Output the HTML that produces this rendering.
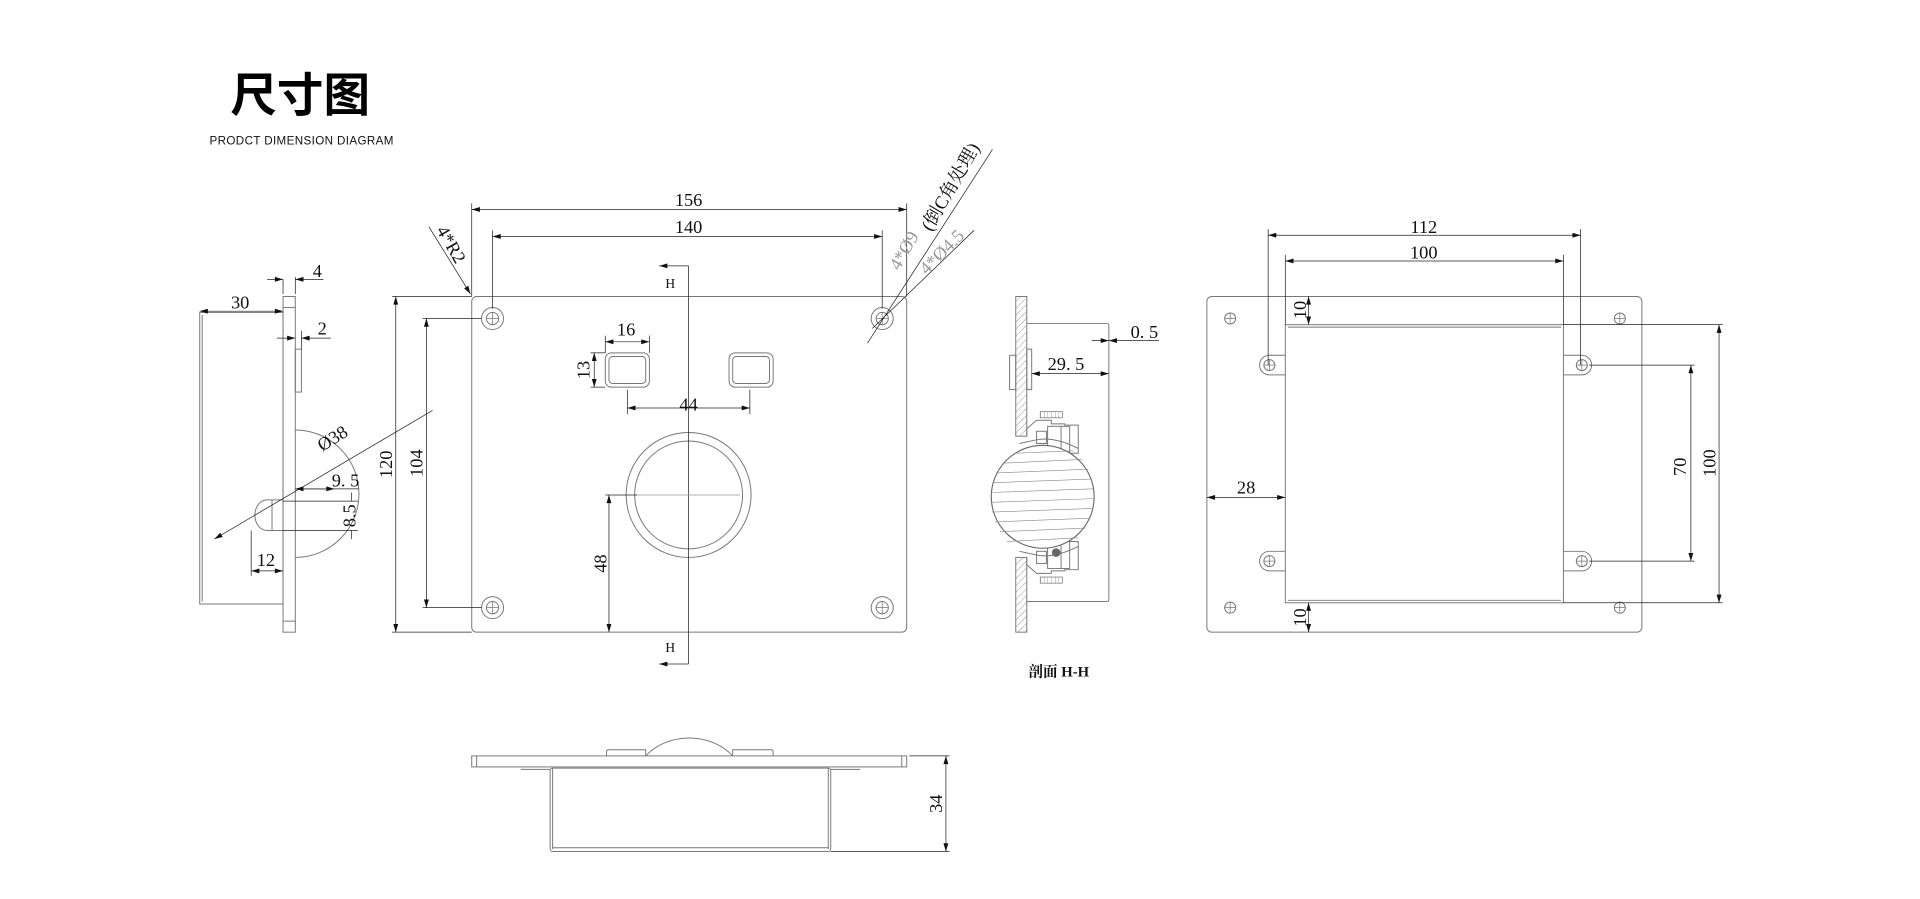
<!DOCTYPE html>
<html><head><meta charset="utf-8"><style>
html,body{margin:0;padding:0;background:#fff;width:1920px;height:899px;overflow:hidden}
svg{display:block}
.t{font-family:"Liberation Serif","Noto Serif CJK SC",serif;font-size:15px;fill:#111}
.n{font-family:"Liberation Sans","Noto Sans CJK SC",sans-serif}
</style></head><body>
<svg width="1920" height="899" viewBox="0 0 1567 733.8" preserveAspectRatio="none" xmlns="http://www.w3.org/2000/svg">
<defs>
<marker id="a" viewBox="0 0 10 6" refX="10" refY="3" markerWidth="7" markerHeight="4" orient="auto-start-reverse" markerUnits="userSpaceOnUse"><path d="M0,0 L10,3 L0,6z" fill="#111"/></marker>
<pattern id="h" width="4" height="4" patternUnits="userSpaceOnUse" patternTransform="rotate(45)"><line x1="0" y1="0" x2="0" y2="4" stroke="#777" stroke-width="0.6"/></pattern>
<pattern id="hv" width="3" height="6" patternUnits="userSpaceOnUse"><line x1="0" y1="0" x2="0" y2="6" stroke="#777" stroke-width="0.6"/></pattern>
<g id="hole"><circle r="9" fill="none" stroke="#777" stroke-width="0.8"/><circle r="5" fill="none" stroke="#777" stroke-width="0.8"/><path d="M-5,0H5M0,-5V5" stroke="#777" stroke-width="0.6"/></g>
<g id="sh"><circle r="4.5" fill="none" stroke="#777" stroke-width="0.8"/><path d="M-4.5,0H4.5M0,-4.5V4.5" stroke="#777" stroke-width="0.6"/></g>
</defs>

<!-- title -->
<text x="188" y="91" class="n" style="font-size:38px;font-weight:bold;fill:#000" font-family="Noto Sans CJK SC, sans-serif">尺寸图</text>
<text x="171" y="118" class="n" style="font-size:9.5px;fill:#111;letter-spacing:0.3px">PRODCT DIMENSION DIAGRAM</text>

<g fill="none" stroke="#777" stroke-width="0.8">
<!-- LEFT SIDE VIEW -->
<rect x="163" y="255" width="68" height="238"/>
<line x1="165" y1="257" x2="165" y2="491"/>
<rect x="231" y="242" width="10" height="274"/>
<line x1="231" y1="251" x2="241" y2="251"/><line x1="231" y1="507" x2="241" y2="507"/>
<rect x="241" y="285" width="5" height="35"/>
<path d="M241,351 A52,52 0 0 1 241,455"/>
<path d="M231,408 H218 A10,12.5 0 0 0 218,433 H231"/>
<line x1="222" y1="408" x2="222" y2="433"/>
</g>
<g stroke="#222" stroke-width="0.6" fill="none">
<line x1="163" y1="254" x2="231" y2="254" marker-start="url(#a)" marker-end="url(#a)"/>
<line x1="231" y1="228" x2="231" y2="240"/><line x1="241" y1="226" x2="241" y2="240"/>
<line x1="218" y1="228" x2="231" y2="228" marker-end="url(#a)"/><line x1="264" y1="228" x2="241" y2="228" marker-end="url(#a)"/>
<line x1="226" y1="276" x2="241" y2="276" marker-end="url(#a)"/><line x1="270" y1="276" x2="246" y2="276" marker-end="url(#a)"/>
<line x1="246" y1="270" x2="246" y2="285"/>
<line x1="175" y1="440" x2="353" y2="335" marker-start="url(#a)"/>
<line x1="241" y1="399" x2="293" y2="399"/>
<line x1="241" y1="399" x2="273" y2="399" marker-start="url(#a)" marker-end="url(#a)"/>
<line x1="231" y1="409" x2="292" y2="409"/><line x1="231" y1="433" x2="292" y2="433"/>
<line x1="287" y1="402" x2="287" y2="409"/><line x1="287" y1="440" x2="287" y2="433"/>
<line x1="205" y1="433" x2="205" y2="470"/>
<line x1="205" y1="466" x2="231" y2="466" marker-start="url(#a)" marker-end="url(#a)"/>
</g>
<text x="196" y="252" class="t" text-anchor="middle">30</text>
<text x="259" y="226" class="t" text-anchor="middle">4</text>
<text x="263" y="273" class="t" text-anchor="middle">2</text>
<text x="274" y="362" class="t" text-anchor="middle" transform="rotate(-32 274 362)">Ø38</text>
<text x="282" y="397" class="t" text-anchor="middle">9. 5</text>
<text x="290" y="421" class="t" text-anchor="middle" transform="rotate(-90 290 421)">8.5</text>
<text x="217" y="462" class="t" text-anchor="middle">12</text>

<!-- FRONT VIEW -->
<g fill="none" stroke="#777" stroke-width="0.8">
<rect x="385" y="242" width="355" height="274" rx="4"/>
<rect x="494" y="288" width="36" height="28" rx="5"/><rect x="497" y="291" width="30" height="22" rx="3"/>
<rect x="595" y="288" width="36" height="28" rx="5"/><rect x="598" y="291" width="30" height="22" rx="3"/>
<circle cx="562" cy="404" r="51"/><circle cx="562" cy="404" r="44"/>
</g>
<use href="#hole" x="402" y="260"/><use href="#hole" x="720" y="260"/>
<use href="#hole" x="402" y="496"/><use href="#hole" x="720" y="496"/>
<g stroke="#222" stroke-width="0.6" fill="none">
<line x1="562" y1="217" x2="562" y2="542"/>
<line x1="562" y1="217" x2="538" y2="217" marker-end="url(#a)"/>
<line x1="562" y1="542" x2="538" y2="542" marker-end="url(#a)"/>
<line x1="520" y1="404" x2="604" y2="404" stroke="#999"/>
<line x1="385" y1="166" x2="385" y2="242"/><line x1="740" y1="166" x2="740" y2="242"/>
<line x1="385" y1="171" x2="740" y2="171" marker-start="url(#a)" marker-end="url(#a)"/>
<line x1="402" y1="188" x2="402" y2="252"/><line x1="720" y1="188" x2="720" y2="252"/>
<line x1="402" y1="193" x2="720" y2="193" marker-start="url(#a)" marker-end="url(#a)"/>
<line x1="350" y1="185" x2="384" y2="240" marker-end="url(#a)"/>
<line x1="810" y1="122" x2="708" y2="280"/>
<line x1="795" y1="188" x2="712" y2="268"/>
<line x1="320" y1="242" x2="385" y2="242"/><line x1="320" y1="516" x2="385" y2="516"/>
<line x1="323" y1="242" x2="323" y2="516" marker-start="url(#a)" marker-end="url(#a)"/>
<line x1="345" y1="260" x2="393" y2="260"/><line x1="345" y1="496" x2="393" y2="496"/>
<line x1="348" y1="260" x2="348" y2="496" marker-start="url(#a)" marker-end="url(#a)"/>
<line x1="494" y1="274" x2="494" y2="288"/><line x1="530" y1="274" x2="530" y2="288"/>
<line x1="494" y1="279" x2="530" y2="279" marker-start="url(#a)" marker-end="url(#a)"/>
<line x1="482" y1="288" x2="494" y2="288"/><line x1="482" y1="316" x2="494" y2="316"/>
<line x1="485" y1="288" x2="485" y2="316" marker-start="url(#a)" marker-end="url(#a)"/>
<line x1="512" y1="318" x2="512" y2="338"/><line x1="612" y1="318" x2="612" y2="338"/>
<line x1="512" y1="333" x2="612" y2="333" marker-start="url(#a)" marker-end="url(#a)"/>
<line x1="494" y1="404" x2="520" y2="404"/>
<line x1="497" y1="404" x2="497" y2="516" marker-start="url(#a)" marker-end="url(#a)"/>
</g>
<text x="547" y="235" class="t" style="font-size:11px" text-anchor="middle">H</text>
<text x="547" y="532" class="t" style="font-size:11px" text-anchor="middle">H</text>
<text x="562" y="168" class="t" text-anchor="middle">156</text>
<text x="562" y="190" class="t" text-anchor="middle">140</text>
<text x="364" y="202" class="t" text-anchor="middle" transform="rotate(60 364 202)">4*R2</text>
<text x="780" y="155" class="t" text-anchor="middle" transform="rotate(-60 780 155)">(倒C角处理)</text>
<text x="742" y="207" class="t" text-anchor="middle" style="fill:#999" transform="rotate(-60 742 207)">4*Ø9</text>
<text x="772" y="209" class="t" text-anchor="middle" style="fill:#999" transform="rotate(-45 772 209)">4*Ø4.5</text>
<text x="320" y="379" class="t" text-anchor="middle" transform="rotate(-90 320 379)">120</text>
<text x="345" y="378" class="t" text-anchor="middle" transform="rotate(-90 345 378)">104</text>
<text x="511" y="274" class="t" text-anchor="middle">16</text>
<text x="481" y="302" class="t" text-anchor="middle" transform="rotate(-90 481 302)">13</text>
<text x="562" y="335" class="t" text-anchor="middle">44</text>
<text x="495" y="460" class="t" text-anchor="middle" transform="rotate(-90 495 460)">48</text>

<!-- SECTION VIEW -->
<rect x="829" y="242" width="9" height="114" fill="url(#h)" stroke="#777" stroke-width="0.8"/>
<rect x="829" y="455" width="9" height="61" fill="url(#h)" stroke="#777" stroke-width="0.8"/>
<g fill="none" stroke="#777" stroke-width="0.8">
<path d="M838,264 H903 Q905,264 905,266 V489 Q905,491 903,491 H838"/>
<rect x="824" y="290" width="5" height="28"/>
<rect x="838" y="285" width="4" height="33"/>
<!-- upper housing -->
<path d="M838,356 V350 L846,343 H858 V346 H869 V347 H880 V370 H873"/>
<rect x="846" y="352" width="8" height="10"/>
<rect x="855" y="348" width="18" height="22"/>
<line x1="866" y1="348" x2="866" y2="370"/>
<path d="M832,362 L846,359 Q860,356 880,366"/>
<!-- lower housing -->
<path d="M838,455 V461 L846,468 H858 V466 H869 V465 H880 V442 H873"/>
<rect x="846" y="450" width="8" height="10"/>
<rect x="855" y="442" width="18" height="22"/>
<line x1="866" y1="442" x2="866" y2="464"/>
<path d="M832,450 L846,453 Q860,456 880,446"/>
</g>
<rect x="849" y="336" width="18" height="5" fill="url(#hv)" stroke="#777" stroke-width="0.6"/>
<rect x="849" y="471" width="18" height="5" fill="url(#hv)" stroke="#777" stroke-width="0.6"/>
<circle cx="851" cy="405.5" r="42" fill="#fff" stroke="#666" stroke-width="0.9"/>
<g stroke="#888" stroke-width="0.5">
<line x1="820" y1="378" x2="883" y2="375"/><line x1="814" y1="386" x2="888" y2="383"/>
<line x1="811" y1="394" x2="891" y2="391"/><line x1="809" y1="402" x2="893" y2="399"/>
<line x1="809" y1="410" x2="893" y2="407"/><line x1="810" y1="418" x2="892" y2="415"/>
<line x1="812" y1="426" x2="890" y2="423"/><line x1="816" y1="434" x2="886" y2="431"/>
<line x1="822" y1="442" x2="880" y2="439"/><line x1="828" y1="370" x2="876" y2="368"/>
</g>
<circle cx="862" cy="451" r="3.5" fill="#666"/>
<g stroke="#222" stroke-width="0.6" fill="none">
<line x1="891" y1="278" x2="905" y2="278" marker-end="url(#a)"/><line x1="946" y1="278" x2="905" y2="278" marker-end="url(#a)"/>
<line x1="842" y1="305" x2="905" y2="305" marker-start="url(#a)" marker-end="url(#a)"/>
</g>
<text x="934" y="276" class="t" text-anchor="middle">0. 5</text>
<text x="870" y="302" class="t" text-anchor="middle">29. 5</text>
<text x="864" y="552" class="t" style="font-size:12px;font-weight:bold" text-anchor="middle">剖面 H-H</text>

<!-- RIGHT VIEW -->
<g fill="none" stroke="#777" stroke-width="0.8">
<rect x="985" y="242" width="355" height="274" rx="4"/>
<rect x="1049" y="265" width="227" height="227"/>
<line x1="1051" y1="267" x2="1274" y2="267"/><line x1="1051" y1="490" x2="1274" y2="490"/>
<path d="M1049,290 H1036 A8,8 0 0 0 1036,306 H1049"/>
<path d="M1049,450 H1036 A8,8 0 0 0 1036,466 H1049"/>
<path d="M1276,290 H1291 A8,8 0 0 1 1291,306 H1276"/>
<path d="M1276,450 H1291 A8,8 0 0 1 1291,466 H1276"/>
</g>
<use href="#sh" x="1004" y="260"/><use href="#sh" x="1322" y="260"/>
<use href="#sh" x="1004" y="496"/><use href="#sh" x="1322" y="496"/>
<use href="#sh" x="1036" y="298"/><use href="#sh" x="1036" y="458"/>
<use href="#sh" x="1291" y="298"/><use href="#sh" x="1291" y="458"/>
<g stroke="#222" stroke-width="0.6" fill="none">
<line x1="1035" y1="187" x2="1035" y2="298"/><line x1="1290" y1="187" x2="1290" y2="298"/>
<line x1="1035" y1="192" x2="1290" y2="192" marker-start="url(#a)" marker-end="url(#a)"/>
<line x1="1049" y1="208" x2="1049" y2="265"/><line x1="1276" y1="208" x2="1276" y2="265"/>
<line x1="1049" y1="213" x2="1276" y2="213" marker-start="url(#a)" marker-end="url(#a)"/>
<line x1="1068" y1="242" x2="1068" y2="265" marker-start="url(#a)" marker-end="url(#a)"/>
<line x1="1068" y1="492" x2="1068" y2="516" marker-start="url(#a)" marker-end="url(#a)"/>
<line x1="985" y1="406" x2="1049" y2="406" marker-start="url(#a)" marker-end="url(#a)"/>
<line x1="1297" y1="298" x2="1383" y2="298"/><line x1="1297" y1="458" x2="1383" y2="458"/>
<line x1="1380" y1="298" x2="1380" y2="458" marker-start="url(#a)" marker-end="url(#a)"/>
<line x1="1276" y1="265" x2="1406" y2="265"/><line x1="1276" y1="492" x2="1406" y2="492"/>
<line x1="1403" y1="265" x2="1403" y2="492" marker-start="url(#a)" marker-end="url(#a)"/>
</g>
<text x="1162" y="190" class="t" text-anchor="middle">112</text>
<text x="1162" y="211" class="t" text-anchor="middle">100</text>
<text x="1066" y="253" class="t" text-anchor="middle" transform="rotate(-90 1066 253)">10</text>
<text x="1066" y="504" class="t" text-anchor="middle" transform="rotate(-90 1066 504)">10</text>
<text x="1017" y="403" class="t" text-anchor="middle">28</text>
<text x="1376" y="381" class="t" text-anchor="middle" transform="rotate(-90 1376 381)">70</text>
<text x="1400" y="378" class="t" text-anchor="middle" transform="rotate(-90 1400 378)">100</text>

<!-- BOTTOM VIEW -->
<g fill="none" stroke="#777" stroke-width="0.8">
<rect x="385" y="617" width="355" height="9"/>
<line x1="389" y1="617" x2="389" y2="626"/><line x1="736" y1="617" x2="736" y2="626"/>
<rect x="449" y="627" width="229" height="68" rx="2"/>
<line x1="451" y1="627" x2="451" y2="693"/><line x1="676" y1="627" x2="676" y2="693"/>
<line x1="451" y1="692" x2="676" y2="692"/>
<path d="M527,617 A45,38 0 0 1 598,617"/>
<path d="M527,617 V612 H497 Q495,612 495,614 V617"/>
<path d="M598,617 V612 H629 Q631,612 631,614 V617"/>
<line x1="425" y1="628" x2="449" y2="628"/><line x1="678" y1="628" x2="702" y2="628"/>
</g>
<g stroke="#222" stroke-width="0.6" fill="none">
<line x1="742" y1="617" x2="775" y2="617"/><line x1="678" y1="695" x2="775" y2="695"/>
<line x1="772" y1="617" x2="772" y2="695" marker-start="url(#a)" marker-end="url(#a)"/>
</g>
<text x="769" y="656" class="t" text-anchor="middle" transform="rotate(-90 769 656)">34</text>
</svg>
</body></html>
